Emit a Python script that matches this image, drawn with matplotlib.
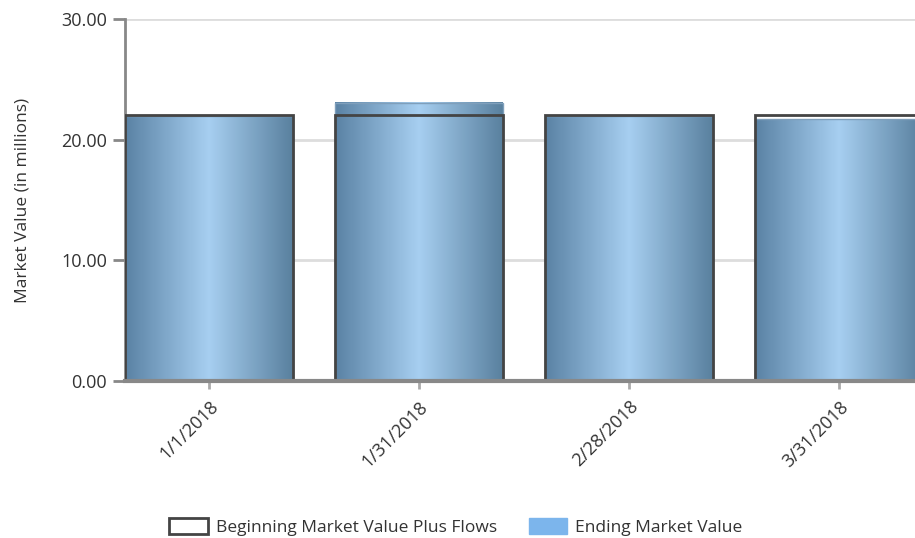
import numpy as np
import matplotlib.pyplot as plt
from matplotlib.colors import LinearSegmentedColormap
from matplotlib.patches import Patch

# dane (w milionach)
dates = ['1/1/2018', '1/31/2018', '2/28/2018', '3/31/2018']
beginning = [22.05, 22.05, 22.05, 22.05]
ending = [22.0, 23.05, 22.0, 21.7]

plt.rcParams['font.family'] = ['Open Sans', 'DejaVu Sans']

fig = plt.figure(figsize=(9.15, 5.38), dpi=100)
ax = fig.add_axes([125 / 915, 1 - 381 / 538, 798 / 915, 362 / 538])

x = np.arange(len(dates))
w = 0.8

# gradient poziomy: ciemny na brzegach, jasny w srodku
cmap = LinearSegmentedColormap.from_list('bar', ['#5a82a4', '#a7cff1', '#59809e'], N=1024)
grad = np.linspace(0, 1, 1024).reshape(1, -1)

for xi, val in zip(x, ending):
    ax.imshow(grad, cmap=cmap, aspect='auto', extent=[xi - w / 2, xi + w / 2, 0, val],
              zorder=2, interpolation='bilinear')
    ax.bar(xi, val, width=w, color='none', edgecolor='#7f9fbb', linewidth=1, zorder=3)

ax.bar(x, beginning, width=w, color='none', edgecolor='#444444', linewidth=2, zorder=4)

ax.set_xlim(-0.4, 3.4)
ax.set_ylim(0, 30)
ax.set_yticks([0, 10, 20, 30])
ax.set_yticklabels(['%.2f' % v for v in [0, 10, 20, 30]], fontsize=13, color='#333333')
ax.set_xticks(x)
ax.set_xticklabels(dates, rotation=45, ha='right', rotation_mode='anchor',
                   fontsize=13, color='#333333')
ax.yaxis.grid(True, color='#dddddd', linewidth=2, zorder=0)
ax.set_axisbelow(True)

for s in ['top', 'right']:
    ax.spines[s].set_visible(False)
ax.spines['left'].set_color('#888888')
ax.spines['left'].set_linewidth(2)
ax.spines['bottom'].set_color('#888888')
ax.spines['bottom'].set_linewidth(3)
ax.spines['bottom'].set_zorder(5)
ax.tick_params(axis='y', length=9, width=2, color='#888888', pad=4)
ax.tick_params(axis='x', length=6, width=2, color='#aaaaaa', pad=6)

ax.set_ylabel('Market Value (in millions)', fontsize=12.5, color='#333333', labelpad=22)

handles = [Patch(facecolor='white', edgecolor='#444444', linewidth=2),
           Patch(facecolor='#7cb5ec', edgecolor='#7cb5ec')]
fig.legend(handles, ['Beginning Market Value Plus Flows', 'Ending Market Value'],
           loc='center', bbox_to_anchor=(456 / 915, 1 - 527 / 538), ncol=2, frameon=False,
           fontsize=12.5, handlelength=2.2, handleheight=1.0, columnspacing=1.8,
           handletextpad=0.5, labelcolor='#333333')

fig.savefig('out.png', dpi=100)
